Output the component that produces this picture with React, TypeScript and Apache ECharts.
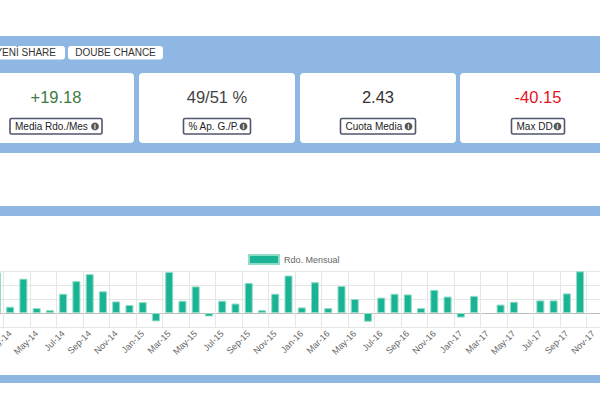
import React, { useEffect, useRef } from "react";
import * as echarts from "echarts";

// ---------- data ----------
const months = [
  "Feb-14", "Mar-14", "Apr-14", "May-14", "Jun-14", "Jul-14", "Aug-14", "Sep-14", "Oct-14", "Nov-14", "Dec-14",
  "Jan-15", "Feb-15", "Mar-15", "Apr-15", "May-15", "Jun-15", "Jul-15", "Aug-15", "Sep-15", "Oct-15", "Nov-15", "Dec-15",
  "Jan-16", "Feb-16", "Mar-16", "Apr-16", "May-16", "Jun-16", "Jul-16", "Aug-16", "Sep-16", "Oct-16", "Nov-16", "Dec-16",
  "Jan-17", "Feb-17", "Mar-17", "Apr-17", "May-17", "Jun-17", "Jul-17", "Aug-17", "Sep-17", "Oct-17", "Nov-17",
];
const rdoMensual: (number | null)[] = [
  58, 9, 49, 7, 4, 27.5, 45.5, 55.5, 31, 16.5, 11.5,
  15.5, -12, 58.5, 17.5, 38, -5, 17.5, 13.5, 43, 4, 27.5, 53.5,
  8, 44, 7, 38.5, 20, -12.5, 22, 27.5, 26.5, 7, 33, 23.5,
  -6.5, 24.5, null, 12, 16, null, 18, 18, 28, 59.5, null,
];
const legendName = "Rdo. Mensual";
const yMin = -20;
const yMax = 60;
const yStep = 20;

const tabLabels = ["YENİ SHARE", "DOUBE CHANCE"];
const kpiValues = ["+19.18", "49/51 %", "2.43", "-40.15"];
const kpiLabels = ["Media Rdo./Mes", "% Ap. G./P.", "Cuota Media", "Max DD"];

// ---------- styles ----------
const FONT = "'Liberation Sans', Arial, Helvetica, sans-serif";
const BLUE = "#8fb7e3";
const kpiColors = ["#3d7a3f", "#444444", "#333333", "#e3141e"];
const cardX = [-22, 139, 300, 460];
const cardW = 156;
const labelW = [92, 67, 75, 53];

function txt(x: number, y: number, text: string, size: number, fill: string, align: string, weight = "normal") {
  return {
    type: "text",
    silent: true,
    style: {
      x, y, text, fill,
      fontSize: size, fontFamily: FONT, fontWeight: weight,
      textAlign: align, align,
      textVerticalAlign: "middle", verticalAlign: "middle",
    },
  };
}

function buildGraphic() {
  const els: any[] = [];
  els.push({ type: "rect", silent: true, shape: { x: 0, y: 36, width: 600, height: 117 }, style: { fill: BLUE } });
  els.push({ type: "rect", silent: true, shape: { x: 0, y: 206, width: 600, height: 10 }, style: { fill: BLUE } });
  els.push({ type: "rect", silent: true, shape: { x: 0, y: 375, width: 600, height: 8 }, style: { fill: BLUE } });
  // tabs
  els.push({ type: "rect", silent: true, shape: { x: -10, y: 46, width: 75, height: 13.5, r: 3 }, style: { fill: "#fff" } });
  els.push(txt(56, 52.8, tabLabels[0], 10, "#333", "right"));
  els.push({ type: "rect", silent: true, shape: { x: 68, y: 46, width: 95, height: 13.5, r: 3 }, style: { fill: "#fff" } });
  els.push(txt(115.5, 52.8, tabLabels[1], 10, "#333", "center"));
  // cards
  for (let i = 0; i < kpiValues.length; i++) {
    const cx = cardX[i] + cardW / 2;
    els.push({ type: "rect", silent: true, shape: { x: cardX[i], y: 73, width: cardW, height: 70, r: 4 }, style: { fill: "#fff" } });
    els.push(txt(cx, 97, kpiValues[i], 16.5, kpiColors[i], "center"));
    const bx = cx - labelW[i] / 2;
    els.push({
      type: "rect", silent: true,
      shape: { x: bx, y: 118.5, width: labelW[i], height: 15.5, r: 1.5 },
      style: { fill: "#fff", stroke: "#50566b", lineWidth: 1.6 },
    });
    els.push(txt(bx + 5, 126.5, kpiLabels[i], 10, "#222", "left"));
    const ix = bx + labelW[i] - 7;
    els.push({ type: "circle", silent: true, shape: { cx: ix, cy: 126.4, r: 3.9 }, style: { fill: "#555" } });
    els.push(txt(ix, 126.6, "i", 6.5, "#fff", "center", "bold"));
  }
  return els;
}

export default function App() {
  const ref = useRef<HTMLDivElement>(null);
  useEffect(() => {
    if (!ref.current) return;
    const chart = echarts.init(ref.current, undefined, { renderer: "svg" });
    const oddIdx = (i: number) => i % 2 === 1;
    const option: any = {
      animation: false,
      backgroundColor: "#ffffff",
      textStyle: { fontFamily: FONT },
      graphic: { elements: buildGraphic() },
      legend: {
        data: [legendName],
        left: 248,
        top: 254,
        padding: 0,
        itemWidth: 30,
        itemHeight: 9,
        icon: "rect",
        textStyle: { fontSize: 9, color: "#666", fontFamily: FONT },
      },
      grid: {
        left: -9.75,
        right: 0,
        top: 271,
        bottom: 69,
        containLabel: false,
        outerBoundsMode: "none",
      },
      xAxis: {
        type: "category",
        data: months,
        boundaryGap: true,
        axisLine: { show: false },
        axisTick: { show: false },
        axisLabel: {
          interval: oddIdx,
          rotate: 45,
          fontSize: 9,
          color: "#666",
          margin: 5,
          fontFamily: FONT,
        },
        splitLine: { show: true, interval: oddIdx, lineStyle: { color: "#e6e6e6", width: 1 } },
      },
      yAxis: {
        type: "value",
        min: yMin,
        max: yMax,
        interval: yStep,
        axisLabel: { show: false },
        axisLine: { show: false },
        axisTick: { show: false },
        splitLine: {
          show: true,
          lineStyle: { color: ["#e6e6e6", "#bdbdbd", "#e6e6e6", "#e6e6e6", "#e6e6e6"], width: 1 },
        },
      },
      series: [
        {
          type: "bar",
          name: legendName,
          data: rdoMensual,
          barWidth: 8,
          itemStyle: { color: "#1ab394", borderColor: "#8fdcc9", borderWidth: 1 },
        },
      ],
    };
    chart.setOption(option);
    return () => chart.dispose();
  }, []);
  return (
    <div
      ref={ref}
      style={{ position: "absolute", left: 0, top: 0, width: 600, height: 396 }}
    />
  );
}
